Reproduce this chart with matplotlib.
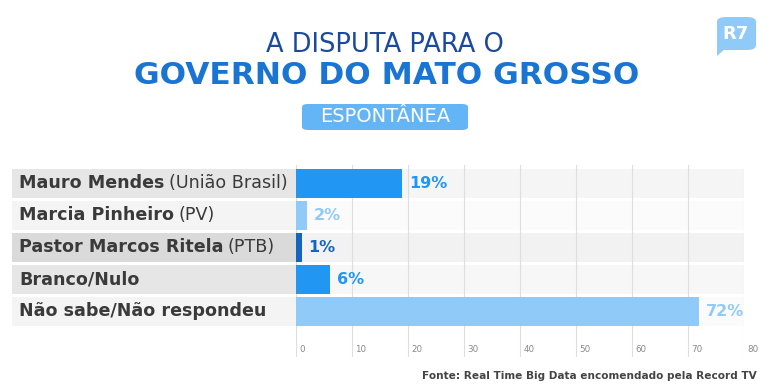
import matplotlib
matplotlib.use("Agg")
import matplotlib.pyplot as plt
from matplotlib.patches import Rectangle, FancyBboxPatch, Polygon
from matplotlib.transforms import blended_transform_factory

# data
names = ["Mauro Mendes", "Marcia Pinheiro", "Pastor Marcos Ritela", "Branco/Nulo", "Não sabe/Não respondeu"]
parties = ["(União Brasil)", "(PV)", "(PTB)", "", ""]
values = [19, 2, 1, 6, 72]
bar_colors = ["#2196f3", "#90caf9", "#1565c0", "#2196f3", "#90caf9"]
label_bg = ["#e6e6e6", "#f4f4f4", "#dadada", "#e6e6e6", "#f4f4f4"]
row_bg = ["#f5f5f5", "#fbfbfb", "#f2f2f2", "#f7f7f7", "#fbfbfb"]
xticks = list(range(0, 81, 10))

title_top = "A DISPUTA PARA O"
title_main = "GOVERNO DO MATO GROSSO"
badge = "ESPONTÂNEA"
source = "Fonte: Real Time Big Data encomendado pela Record TV"

plt.rcParams['font.family'] = ['DejaVu Sans']

W, H = 770, 389
fig = plt.figure(figsize=(W / 100, H / 100), dpi=100)
fig.patch.set_facecolor("white")

def fx(px):
    return px / W

def fy(py):
    return 1 - py / H

# main axes, pixel box 296..744 x 165..357
ax = fig.add_axes([fx(296), fy(357), fx(744) - fx(296), (357 - 165) / H])
ax.set_xlim(0, 80)
ax.set_ylim(len(values) - 1 + 1.422, -0.578)
ax.axis("off")

# row backgrounds
band = 0.906
for i in range(len(values)):
    ax.axhspan(i - band / 2, i + band / 2, xmin=0, xmax=1, color=row_bg[i], zorder=0, lw=0)

# label backgrounds, 12px .. 296px
lab_tr = blended_transform_factory(ax.transAxes, ax.transData)
x0 = (12 - 296) / 448
for i in range(len(values)):
    ax.add_patch(Rectangle((x0, i - band / 2), -x0, band, transform=lab_tr,
                           facecolor=label_bg[i], edgecolor="none", clip_on=False, zorder=0))

# grid lines
for t in xticks:
    ax.axvline(t, color="#dedede", lw=0.8, zorder=1)
    ax.annotate(str(t), xy=(t, 0.037), xycoords=("data", "axes fraction"),
                xytext=(2.5, 0), textcoords="offset points",
                ha="left", va="center", fontsize=6.3, color="#8a8a8a")

ax.barh(range(len(values)), values, height=band, color=bar_colors, zorder=2)

for i, v in enumerate(values):
    ax.annotate(f"{v}%", xy=(v, i), xytext=(5, 0), textcoords="offset points",
                ha="left", va="center", fontsize=11.5, fontweight="bold", color=bar_colors[i])

name_tr = blended_transform_factory(fig.transFigure, ax.transData)
for i, (n, p) in enumerate(zip(names, parties)):
    t1 = ax.text(fx(19), i, n, transform=name_tr, ha="left", va="center",
                 fontsize=12.6, fontweight="bold", color="#3a3a3a")
    if p:
        ax.annotate(p, xy=(1, 0), xycoords=t1, xytext=(3, 0), textcoords="offset points",
                    ha="left", va="bottom", fontsize=12.6, color="#3a3a3a")

# header
fig.text(fx(385), fy(45), title_top, ha="center", va="center", fontsize=18.5, color="#1b4a9c")
fig.text(fx(387), fy(75), title_main, ha="center", va="center", fontsize=22.5,
         fontweight="heavy", color="#1a74d2")
fig.patches.append(FancyBboxPatch((fx(302), fy(130)), fx(468) - fx(302), (130 - 104) / H,
                                  boxstyle="round,pad=0,rounding_size=0.008",
                                  transform=fig.transFigure, facecolor="#64b5f6",
                                  edgecolor="none"))
fig.text(fx(385), fy(117), badge, ha="center", va="center", fontsize=14, color="white")

# logo
fig.patches.append(FancyBboxPatch((fx(717), fy(50)), fx(756) - fx(717), (50 - 17) / H,
                                  boxstyle="round,pad=0,rounding_size=0.012",
                                  transform=fig.transFigure, facecolor="#90caf9",
                                  edgecolor="none"))
fig.patches.append(Polygon([(fx(717), fy(45)), (fx(717), fy(56)), (fx(726), fy(48))],
                           closed=True, transform=fig.transFigure, facecolor="#90caf9",
                           edgecolor="none"))
fig.text(fx(736), fy(34), "R7", ha="center", va="center", fontsize=13,
         fontweight="heavy", color="white")

fig.text(fx(757), fy(376), source, ha="right", va="center", fontsize=7.6,
         fontweight="bold", color="#444444")

fig.savefig("out.png", dpi=100)
